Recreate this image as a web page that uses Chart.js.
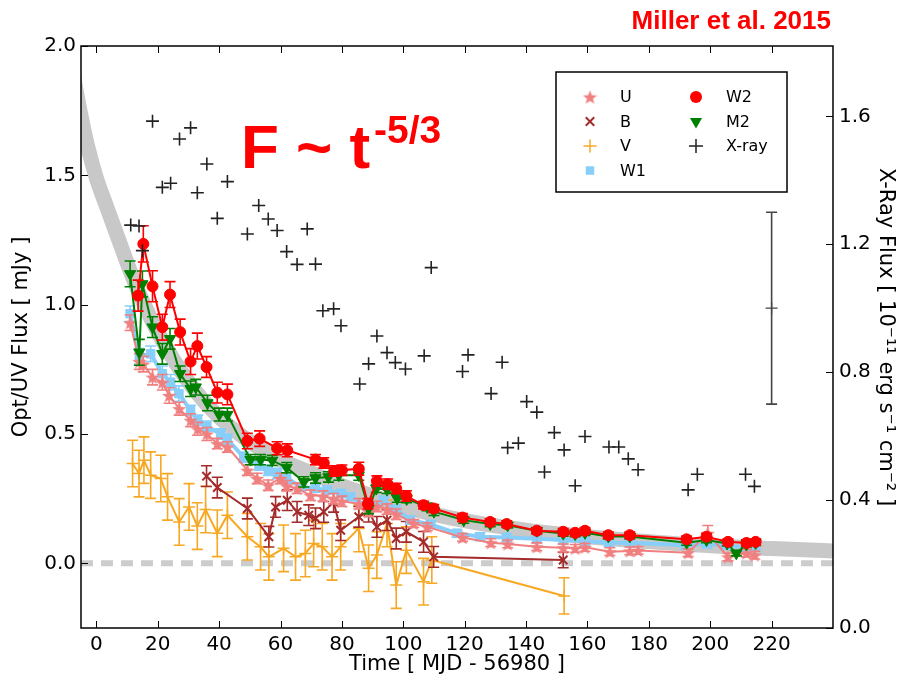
<!DOCTYPE html>
<html>
<head>
<meta charset="utf-8">
<script src="https://cdn.jsdelivr.net/npm/chart.js@4.4.0/dist/chart.umd.min.js"></script>
<style>
html, body { margin: 0; padding: 0; background: #fff; }
</style>
</head>
<body>
<canvas id="grafico" width="903" height="676"></canvas>
<script>
// tick values
const timeTicks = [0, 20, 40, 60, 80, 100, 120, 140, 160, 180, 200, 220];
const fluxTicks = [0.0, 0.5, 1.0, 1.5, 2.0];
const xrayTicks = [0.0, 0.4, 0.8, 1.2, 1.6];

// t^-5/3 model band, read along its centre
const modelTime = [-8, -5, -3, 0, 3, 7, 12, 18, 25, 32, 40, 50, 60, 70, 80, 90, 100, 120, 140, 160, 180, 200, 220, 245];
const modelFlux = [1.92, 1.73, 1.62, 1.49, 1.39, 1.26, 1.10, 0.94, 0.79, 0.67, 0.565, 0.47, 0.40, 0.35, 0.30, 0.26, 0.22, 0.165, 0.128, 0.103, 0.084, 0.068, 0.057, 0.046];

const zeroTime = [-5, 240];
const zeroFlux = [0, 0];

const w2Time = [13.6, 15.3, 18.3, 21.5, 24.0, 27.3, 30.7, 32.9, 35.9, 39.4, 42.7, 49.2, 53.2, 58.9, 62.2, 71.4, 74.1, 77.5, 80.0, 85.5, 88.5, 91.4, 94.9, 97.7, 101.0, 106.6, 109.9, 119.3, 128.3, 133.7, 143.5, 152.1, 156.0, 159.2, 166.8, 173.8, 192.3, 198.8, 205.8, 211.8, 214.8];
const w2Flux = [1.035, 1.235, 1.071, 0.913, 1.039, 0.894, 0.780, 0.840, 0.759, 0.660, 0.653, 0.473, 0.482, 0.445, 0.437, 0.401, 0.388, 0.357, 0.360, 0.366, 0.230, 0.318, 0.306, 0.289, 0.260, 0.225, 0.212, 0.177, 0.160, 0.152, 0.126, 0.122, 0.118, 0.126, 0.109, 0.109, 0.093, 0.103, 0.083, 0.079, 0.083];
const w2Err = [0.06, 0.07, 0.06, 0.05, 0.05, 0.05, 0.05, 0.05, 0.04, 0.04, 0.04, 0.03, 0.03, 0.025, 0.025, 0.02, 0.02, 0.02, 0.02, 0.025, 0.02, 0.02, 0.02, 0.02, 0.02, 0.015, 0.015, 0.015, 0.012, 0.012, 0.012, 0.012, 0.012, 0.012, 0.012, 0.012, 0.012, 0.012, 0.012, 0.012, 0.012];

const m2Time = [11.0, 14.0, 15.0, 18.3, 21.5, 24.0, 27.3, 30.7, 32.4, 36.2, 40.0, 42.7, 50.2, 53.5, 57.3, 62.0, 67.6, 71.4, 75.6, 79.0, 85.5, 88.7, 91.2, 94.7, 98.0, 101.1, 107.8, 110.0, 119.7, 128.3, 134.0, 143.5, 152.1, 156.0, 159.2, 166.8, 173.8, 192.3, 198.8, 205.5, 208.5, 211.8, 214.8];
const m2Flux = [1.119, 0.816, 1.080, 0.913, 0.810, 0.868, 0.733, 0.675, 0.681, 0.620, 0.575, 0.575, 0.401, 0.401, 0.398, 0.370, 0.315, 0.330, 0.334, 0.341, 0.341, 0.212, 0.289, 0.285, 0.251, 0.249, 0.218, 0.200, 0.167, 0.152, 0.147, 0.126, 0.115, 0.113, 0.118, 0.104, 0.104, 0.080, 0.090, 0.077, 0.039, 0.073, 0.079];
const m2Err = [0.05, 0.05, 0.05, 0.04, 0.04, 0.04, 0.03, 0.03, 0.03, 0.03, 0.025, 0.025, 0.02, 0.02, 0.02, 0.02, 0.02, 0.02, 0.02, 0.02, 0.02, 0.02, 0.015, 0.015, 0.015, 0.015, 0.015, 0.015, 0.012, 0.01, 0.01, 0.01, 0.01, 0.01, 0.01, 0.01, 0.01, 0.01, 0.01, 0.01, 0.01, 0.01, 0.01];

const w1Time = [11.0, 14.0, 17.7, 21.5, 24.2, 26.9, 30.7, 33.0, 36.0, 40.5, 42.7, 48.0, 53.0, 56.0, 59.0, 62.0, 66.5, 71.4, 75.2, 79.7, 82.8, 88.7, 93.6, 97.5, 102.3, 109.0, 117.5, 125.0, 133.7, 143.5, 152.1, 159.2, 167.0, 173.8, 192.0, 199.0, 205.0, 212.0, 214.8];
const w1Flux = [0.965, 0.800, 0.810, 0.733, 0.700, 0.656, 0.591, 0.553, 0.530, 0.500, 0.480, 0.410, 0.380, 0.360, 0.347, 0.330, 0.296, 0.290, 0.283, 0.270, 0.257, 0.220, 0.244, 0.210, 0.167, 0.150, 0.116, 0.103, 0.100, 0.095, 0.090, 0.085, 0.080, 0.080, 0.070, 0.075, 0.070, 0.060, 0.065];
const w1Err = [0.03, 0.03, 0.03, 0.03, 0.03, 0.03, 0.02, 0.02, 0.02, 0.02, 0.02, 0.02, 0.02, 0.02, 0.02, 0.02, 0.015, 0.015, 0.015, 0.015, 0.015, 0.015, 0.015, 0.015, 0.015, 0.015, 0.015, 0.015, 0.015, 0.015, 0.015, 0.015, 0.015, 0.015, 0.015, 0.015, 0.015, 0.015, 0.015];

const uTime = [11.0, 14.0, 15.3, 18.3, 21.5, 23.7, 27.0, 30.7, 33.0, 36.0, 39.4, 42.7, 49.2, 52.4, 56.0, 60.0, 62.0, 65.4, 69.8, 73.8, 77.3, 80.0, 85.5, 88.7, 91.4, 94.7, 97.7, 103.4, 107.8, 119.3, 128.5, 134.0, 143.5, 152.1, 156.0, 159.2, 167.3, 173.8, 176.5, 192.8, 199.2, 205.8, 211.8, 214.5];
const uFlux = [0.930, 0.780, 0.770, 0.720, 0.700, 0.649, 0.598, 0.553, 0.520, 0.500, 0.463, 0.450, 0.360, 0.328, 0.302, 0.328, 0.300, 0.290, 0.263, 0.260, 0.250, 0.240, 0.230, 0.200, 0.220, 0.210, 0.190, 0.154, 0.141, 0.100, 0.080, 0.075, 0.064, 0.060, 0.058, 0.062, 0.045, 0.048, 0.050, 0.041, 0.116, 0.025, 0.040, 0.032];
const uErr = [0.03, 0.03, 0.03, 0.03, 0.03, 0.03, 0.025, 0.025, 0.025, 0.025, 0.02, 0.02, 0.02, 0.02, 0.02, 0.02, 0.02, 0.02, 0.02, 0.02, 0.02, 0.02, 0.02, 0.02, 0.02, 0.02, 0.02, 0.015, 0.015, 0.015, 0.015, 0.015, 0.015, 0.015, 0.015, 0.015, 0.015, 0.015, 0.015, 0.015, 0.03, 0.015, 0.015, 0.015];

const bTime = [35.9, 39.4, 49.2, 56.2, 58.4, 62.2, 65.4, 69.2, 71.4, 74.1, 77.3, 79.6, 85.5, 88.7, 91.4, 94.7, 97.7, 101.0, 106.6, 109.9, 152.1];
const bFlux = [0.337, 0.293, 0.212, 0.103, 0.218, 0.244, 0.199, 0.186, 0.174, 0.199, 0.238, 0.128, 0.180, 0.200, 0.141, 0.167, 0.096, 0.122, 0.083, 0.025, 0.013];
const bErr = [0.04, 0.04, 0.04, 0.04, 0.04, 0.04, 0.04, 0.04, 0.04, 0.04, 0.04, 0.04, 0.04, 0.04, 0.04, 0.04, 0.04, 0.04, 0.04, 0.04, 0.03];

const vTime = [11.8, 13.9, 15.5, 17.7, 21.0, 23.2, 27.0, 30.2, 32.9, 35.6, 39.4, 42.7, 49.2, 53.5, 56.2, 61.0, 64.9, 68.1, 70.8, 73.6, 76.8, 79.6, 85.5, 88.7, 91.4, 94.7, 97.7, 101.0, 106.6, 109.3, 152.4];
const vFlux = [0.386, 0.347, 0.399, 0.341, 0.328, 0.257, 0.160, 0.218, 0.144, 0.208, 0.116, 0.186, 0.103, 0.064, 0.025, 0.058, 0.025, 0.038, 0.077, 0.064, 0.025, 0.064, 0.135, -0.019, 0.032, 0.154, -0.084, 0.051, -0.071, 0.013, -0.126];
const vErr = [0.09, 0.09, 0.09, 0.09, 0.09, 0.09, 0.09, 0.09, 0.09, 0.09, 0.09, 0.09, 0.09, 0.09, 0.09, 0.09, 0.09, 0.09, 0.09, 0.09, 0.09, 0.09, 0.09, 0.09, 0.09, 0.09, 0.09, 0.09, 0.09, 0.09, 0.07];

const xrayTime = [11.2, 13.9, 15.0, 18.3, 21.5, 24.2, 27.1, 30.7, 32.9, 36.0, 39.4, 42.7, 49.2, 52.9, 56.0, 58.9, 62.0, 65.4, 68.7, 71.4, 73.8, 77.3, 79.7, 85.8, 88.7, 91.4, 94.7, 97.4, 100.7, 106.8, 109.1, 119.3, 121.1, 128.6, 132.2, 134.0, 137.5, 140.2, 143.5, 146.0, 149.2, 152.4, 156.0, 159.2, 167.0, 170.2, 173.3, 176.5, 192.8, 195.8, 211.5, 214.4];
const xrayFlux = [1.26, 1.257, 1.18, 1.585, 1.378, 1.391, 1.529, 1.564, 1.361, 1.451, 1.281, 1.396, 1.232, 1.321, 1.279, 1.243, 1.177, 1.137, 1.248, 1.138, 0.992, 0.998, 0.945, 0.763, 0.826, 0.913, 0.861, 0.83, 0.81, 0.851, 1.127, 0.802, 0.854, 0.733, 0.831, 0.564, 0.578, 0.708, 0.675, 0.488, 0.611, 0.557, 0.445, 0.599, 0.566, 0.566, 0.529, 0.495, 0.432, 0.481, 0.481, 0.443];

// typical X-ray uncertainty shown at the right
const sampleTime = [220];
const sampleFlux = [1.0];
const sampleErr = [0.3];

const pts = (xs, ys) => xs.map((x, i) => ({ x: x, y: ys[i] }));

function makeStar(color, size) {
    const c = document.createElement("canvas");
    c.width = size;
    c.height = size;
    const g = c.getContext("2d");
    const r = size / 2, ri = r * 0.42;
    g.beginPath();
    for (let i = 0; i < 10; i++) {
        const a = -Math.PI / 2 + i * Math.PI / 5;
        const rr = i % 2 ? ri : r;
        g.lineTo(r + rr * Math.cos(a), r + rr * Math.sin(a) + 0.8);
    }
    g.closePath();
    g.fillStyle = color;
    g.fill();
    return c;
}

const starIcon = makeStar("#f08080", 15);
const tickFont = { family: "'DejaVu Sans', sans-serif", size: 20 };
const titleFont = { family: "'DejaVu Sans', sans-serif", size: 21 };

function serie(label, xs, ys, errs, color, extra) {
    return Object.assign({
        label: label,
        data: pts(xs, ys),
        errors: errs,
        borderColor: color,
        backgroundColor: color,
        pointBorderColor: color,
        pointBackgroundColor: color,
        borderWidth: 2,
        pointBorderWidth: 1,
        tension: 0,
        yAxisID: "y"
    }, extra);
}

const datasets = [
    {
        label: "model", data: pts(modelTime, modelFlux), yAxisID: "y",
        borderColor: "#c8c8c8", borderWidth: 15, pointRadius: 0,
        cubicInterpolationMode: "monotone", borderCapStyle: "butt", order: 20
    },
    {
        label: "zero", data: pts(zeroTime, zeroFlux), yAxisID: "y",
        borderColor: "#cccccc", borderWidth: 6, borderDash: [12, 8], pointRadius: 0, order: 19
    },
    serie("V", vTime, vFlux, vErr, "#f7a823", { pointStyle: "cross", pointRadius: 6, pointBorderWidth: 1.5, borderWidth: 2, order: 9 }),
    serie("B", bTime, bFlux, bErr, "#a52a2a", { pointStyle: "crossRot", pointRadius: 6, pointBorderWidth: 2, order: 8 }),
    serie("W1", w1Time, w1Flux, w1Err, "#87cefa", { pointStyle: "rect", pointRadius: 6, borderWidth: 4, order: 7 }),
    serie("U", uTime, uFlux, uErr, "#f08080", { pointStyle: starIcon, pointRadius: 7, order: 6 }),
    serie("M2", m2Time, m2Flux, m2Err, "#008000", { pointStyle: "triangle", rotation: 180, pointRadius: 6.5, order: 5 }),
    serie("W2", w2Time, w2Flux, w2Err, "#ff0000", { pointStyle: "circle", pointRadius: 5.5, order: 4 }),
    {
        label: "X-ray", data: pts(xrayTime, xrayFlux), yAxisID: "y2", showLine: false,
        pointStyle: "cross", pointRadius: 6.5, pointBorderWidth: 1.6,
        pointBorderColor: "#222", borderColor: "#222", order: 1
    },
    {
        label: "sample", data: pts(sampleTime, sampleFlux), errors: sampleErr, yAxisID: "y2", showLine: false,
        pointStyle: "cross", pointRadius: 6, pointBorderWidth: 1.3,
        pointBorderColor: "#444", borderColor: "#444", order: 0
    }
];

const errorBars = {
    id: "errorBars",
    beforeDatasetDraw(chart, args) {
        const ds = chart.data.datasets[args.index];
        if (!ds.errors) return;
        const area = chart.chartArea;
        const xs = chart.scales.x;
        const ys = chart.scales[args.meta.yAxisID];
        const ctx = chart.ctx;
        ctx.save();
        ctx.beginPath();
        ctx.rect(area.left, area.top, area.right - area.left, area.bottom - area.top);
        ctx.clip();
        ctx.strokeStyle = ds.borderColor;
        ctx.lineWidth = 1.6;
        const cap = 5.5;
        ds.data.forEach((p, i) => {
            const e = ds.errors[i];
            const px = xs.getPixelForValue(p.x);
            const top = ys.getPixelForValue(p.y + e);
            const bot = ys.getPixelForValue(p.y - e);
            ctx.beginPath();
            ctx.moveTo(px, top); ctx.lineTo(px, bot);
            ctx.moveTo(px - cap, top); ctx.lineTo(px + cap, top);
            ctx.moveTo(px - cap, bot); ctx.lineTo(px + cap, bot);
            ctx.stroke();
        });
        ctx.restore();
    }
};

const legendItems = [
    { text: "U", col: 0, row: 0, style: starIcon, color: "#f08080", r: 7 },
    { text: "B", col: 0, row: 1, style: "crossRot", color: "#a52a2a", r: 6, bw: 2 },
    { text: "V", col: 0, row: 2, style: "cross", color: "#f7a823", r: 6.5, bw: 1.5 },
    { text: "W1", col: 0, row: 3, style: "rect", color: "#87cefa", r: 6 },
    { text: "W2", col: 1, row: 0, style: "circle", color: "#ff0000", r: 6 },
    { text: "M2", col: 1, row: 1, style: "triangle", color: "#008000", r: 7, rot: 180 },
    { text: "X-ray", col: 1, row: 2, style: "cross", color: "#222", r: 7, bw: 1.5 }
];

const decor = {
    id: "decor",
    afterDraw(chart) {
        const ctx = chart.ctx;
        const a = chart.chartArea;
        const xs = chart.scales.x, ys = chart.scales.y, y2 = chart.scales.y2;
        ctx.save();
        ctx.strokeStyle = "#000";
        ctx.lineWidth = 1.5;
        ctx.strokeRect(a.left, a.top, a.right - a.left, a.bottom - a.top);
        ctx.lineWidth = 1;
        ctx.beginPath();
        timeTicks.forEach(v => {
            const px = Math.round(xs.getPixelForValue(v)) + 0.5;
            ctx.moveTo(px, a.bottom); ctx.lineTo(px, a.bottom - 7);
            ctx.moveTo(px, a.top); ctx.lineTo(px, a.top + 7);
        });
        fluxTicks.forEach(v => {
            const py = Math.round(ys.getPixelForValue(v)) + 0.5;
            ctx.moveTo(a.left, py); ctx.lineTo(a.left + 7, py);
        });
        xrayTicks.forEach(v => {
            const py = Math.round(y2.getPixelForValue(v)) + 0.5;
            ctx.moveTo(a.right, py); ctx.lineTo(a.right - 7, py);
        });
        ctx.stroke();

        // legend box
        const lx = 556, ly = 72, lw = 231, lh = 120;
        ctx.fillStyle = "#fff";
        ctx.fillRect(lx, ly, lw, lh);
        ctx.lineWidth = 1.5;
        ctx.strokeStyle = "#000";
        ctx.strokeRect(lx, ly, lw, lh);
        ctx.font = "16px 'DejaVu Sans', sans-serif";
        ctx.textBaseline = "middle";
        legendItems.forEach(it => {
            const mx = lx + 34 + it.col * 106;
            const my = ly + 25 + it.row * 24.5;
            ctx.fillStyle = it.color;
            ctx.strokeStyle = it.color;
            ctx.lineWidth = it.bw || 1;
            Chart.helpers.drawPoint(ctx, { pointStyle: it.style, radius: it.r, rotation: it.rot || 0, borderWidth: it.bw || 0 }, mx, my);
            ctx.fillStyle = "#000";
            ctx.fillText(it.text, mx + 30, my + 1);
        });

        // annotations
        ctx.fillStyle = "#ff0000";
        ctx.textBaseline = "alphabetic";
        ctx.font = "bold 62px 'Liberation Sans', Arial, sans-serif";
        ctx.fillText("F ~ t", 241, 168);
        ctx.font = "bold 39px 'Liberation Sans', Arial, sans-serif";
        ctx.fillText("-5/3", 374, 143);
        ctx.font = "bold 26px 'Liberation Sans Narrow', 'Liberation Sans', Arial, sans-serif";
        ctx.textAlign = "right";
        ctx.fillText("Miller et al. 2015", 831, 29);
        ctx.restore();
    }
};

new Chart(document.getElementById("grafico").getContext("2d"), {
    type: "line",
    data: { datasets: datasets },
    options: {
        responsive: false,
        animation: false,
        devicePixelRatio: 1,
        layout: { padding: { top: 46, left: 0, right: 0, bottom: 0 } },
        plugins: { legend: { display: false }, tooltip: { enabled: false } },
        scales: {
            x: {
                type: "linear", position: "bottom", min: -5, max: 240,
                afterBuildTicks: s => { s.ticks = timeTicks.map(v => ({ value: v })); },
                afterFit: s => { s.height = 48; },
                grid: { display: false, drawTicks: false }, border: { display: false },
                ticks: { font: tickFont, color: "#000", padding: 5, maxRotation: 0, autoSkip: false },
                title: { display: true, text: "Time [ MJD - 56980 ]", font: titleFont, color: "#000", padding: { top: 0, bottom: -1 } }
            },
            y: {
                type: "linear", position: "left", min: -0.25, max: 2.0,
                afterBuildTicks: s => { s.ticks = fluxTicks.map(v => ({ value: v })); },
                afterFit: s => { s.width = 81; },
                grid: { display: false, drawTicks: false }, border: { display: false },
                ticks: { font: tickFont, color: "#000", padding: 5, callback: v => v.toFixed(1) },
                title: { display: true, text: "Opt/UV Flux [ mJy ]", font: titleFont, color: "#000", padding: { top: 9, bottom: 0 } }
            },
            y2: {
                type: "linear", position: "right", min: 0, max: 1.82,
                afterBuildTicks: s => { s.ticks = xrayTicks.map(v => ({ value: v })); },
                afterFit: s => { s.width = 70; },
                grid: { display: false, drawTicks: false }, border: { display: false },
                ticks: { font: tickFont, color: "#000", padding: 6, callback: v => v.toFixed(1) },
                title: { display: true, text: "X-Ray Flux [ 10\u207B\u00B9\u00B9 erg s\u207B\u00B9 cm\u207B\u00B2 ]", font: titleFont, color: "#000", padding: { top: 5, bottom: 0 } }
            }
        }
    },
    plugins: [errorBars, decor]
});
</script>
</body>
</html>
